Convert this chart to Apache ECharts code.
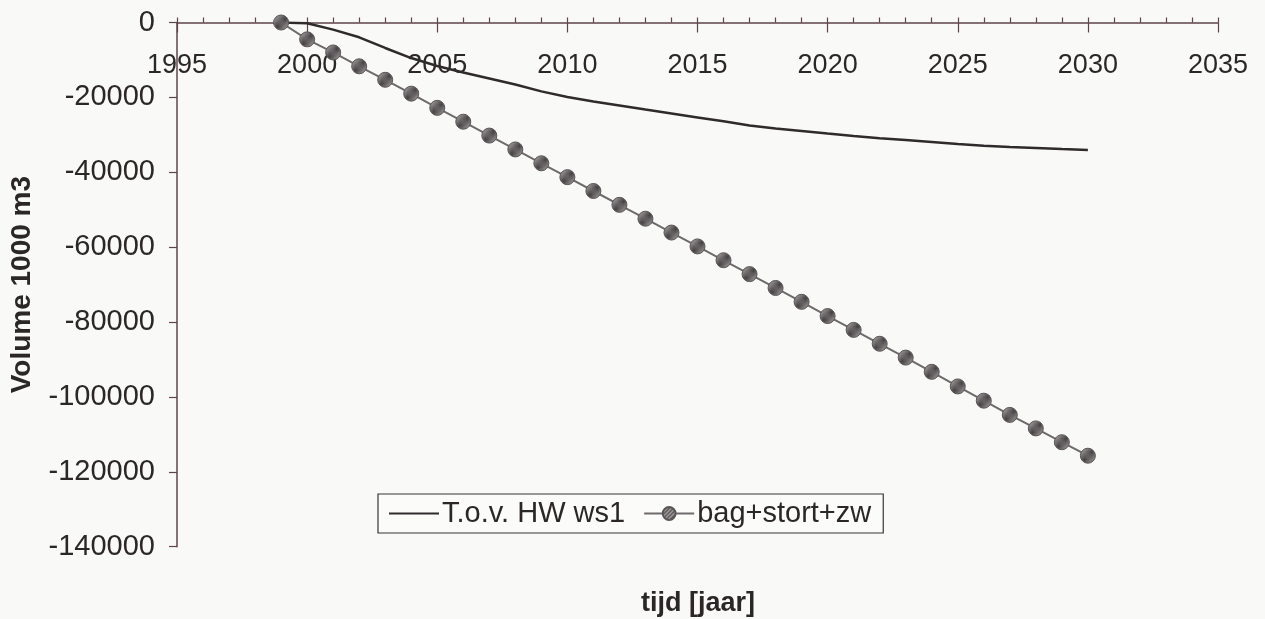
<!DOCTYPE html>
<html>
<head>
<meta charset="utf-8">
<script src="https://cdn.jsdelivr.net/npm/echarts@6/dist/echarts.min.js"></script>
<style>
  html, body { margin: 0; padding: 0; background: #f9f9f7; }
  #chart { width: 1265px; height: 619px; }
</style>
</head>
<body>
<div id="chart"></div>
<script>
// Years of the projection
const years = [1999, 2000, 2001, 2002, 2003, 2004, 2005, 2006, 2007, 2008, 2009,
               2010, 2011, 2012, 2013, 2014, 2015, 2016, 2017, 2018, 2019, 2020,
               2021, 2022, 2023, 2024, 2025, 2026, 2027, 2028, 2029, 2030];

// Volume change relative to HW ws1 (1000 m3)
const hwWs1 = [0, -200, -1900, -3950, -6800, -9500, -11600, -13350, -14950, -16550, -18400,
               -19900, -21100, -22150, -23250, -24300, -25350, -26400, -27500, -28300, -28950, -29650,
               -30300, -30900, -31400, -31900, -32450, -32900, -33250, -33500, -33800, -34050];

// Volume change from dredging + dumping + sand extraction (1000 m3)
const bagStortZw = [0, -4500, -8000, -11700, -15300, -19000, -22800, -26500, -30200, -33900, -37600,
                    -41300, -45000, -48700, -52400, -56100, -59800, -63500, -67200, -70900, -74600, -78400,
                    -82100, -85800, -89500, -93300, -97200, -101000, -104800, -108400, -112100, -115700];

const seriesNames = ['T.o.v. HW ws1', 'bag+stort+zw'];
const xRange = [1995, 2035];   // tick labels every 5 years
const yRange = [-140000, 0];   // tick labels every 20000

const FONT = '"Liberation Sans", Arial, Helvetica, sans-serif';
const TEXT = '#2b2729';
const AXIS = '#5c4448';

// Diagonal hatch used to fill the circle markers
function hatch() {
  const c = document.createElement('canvas');
  c.width = 4; c.height = 4;
  const g = c.getContext('2d');
  g.fillStyle = '#b3afb0';
  g.fillRect(0, 0, 4, 4);
  g.strokeStyle = '#454042';
  g.lineWidth = 1.3;
  g.beginPath();
  g.moveTo(-1, 5); g.lineTo(5, -1);
  g.moveTo(-1, 1); g.lineTo(1, -1);
  g.moveTo(3, 5); g.lineTo(5, 3);
  g.stroke();
  return c;
}
const hatchFill = { image: hatch(), repeat: 'repeat' };

const pair = (arr) => years.map((y, i) => [y, arr[i]]);

const chart = echarts.init(document.getElementById('chart'), null, { renderer: 'canvas' });

chart.setOption({
  backgroundColor: '#f9f9f7',
  animation: false,
  textStyle: { fontFamily: FONT, color: TEXT },
  grid: {
    left: 177, right: 47, top: 22.5, bottom: 72.3,
    containLabel: false, outerBoundsMode: 'none'
  },
  xAxis: [
    {
      type: 'value',
      position: 'top',
      min: xRange[0], max: xRange[1], interval: 5,
      splitLine: { show: false },
      axisLine: { show: true, lineStyle: { color: AXIS, width: 1.5 } },
      axisTick: { show: true, inside: false, length: 5, lineStyle: { color: AXIS, width: 1.2 } },
      minorTick: { show: true, splitNumber: 5, length: 5, lineStyle: { color: AXIS, width: 1.2 } },
      axisLabel: {
        inside: true, margin: 30,
        fontSize: 27, fontFamily: FONT, color: TEXT,
        formatter: (v) => String(v)
      }
    },
    {
      type: 'value',
      position: 'top',
      min: xRange[0], max: xRange[1], interval: 5,
      splitLine: { show: false },
      axisLine: { show: false },
      axisTick: { show: true, inside: true, length: 10, lineStyle: { color: AXIS, width: 1.2 } },
      axisLabel: { show: false }
    }
  ],
  yAxis: {
    type: 'value',
    min: yRange[0], max: yRange[1], interval: 20000,
    splitLine: { show: false },
    axisLine: { show: true, onZero: false, lineStyle: { color: AXIS, width: 1.5 } },
    axisTick: { show: true, length: 8, lineStyle: { color: AXIS, width: 1.2 } },
    axisLabel: {
      margin: 22, fontSize: 29, fontFamily: FONT, color: TEXT,
      formatter: (v) => String(v)
    },
    name: 'Volume 1000 m3',
    nameLocation: 'middle',
    nameGap: 141,
    nameRotate: 90,
    nameTextStyle: { fontSize: 28, fontWeight: 'bold', fontFamily: FONT, color: TEXT }
  },
  graphic: [{
    type: 'text',
    x: 698, y: 604,
    style: {
      text: 'tijd [jaar]', font: 'bold 27px ' + FONT, fill: TEXT,
      align: 'center', verticalAlign: 'middle'
    }
  }],
  legend: {
    left: 378, top: 494,
    orient: 'horizontal',
    backgroundColor: '#fbfbf9',
    borderColor: '#3a3436', borderWidth: 1.2, borderRadius: 0,
    padding: [5, 12, 5, 10],
    itemGap: 18,
    itemWidth: 50, itemHeight: 16,
    textStyle: { fontSize: 29, fontFamily: FONT, color: TEXT, padding: [0, 0, 0, -2] },
    data: [
      { name: seriesNames[0], itemStyle: { opacity: 0 } },
      { name: seriesNames[1] }
    ]
  },
  series: [
    {
      name: seriesNames[0],
      type: 'line',
      data: pair(hwWs1),
      showSymbol: false,
      symbol: 'none',
      lineStyle: { color: '#2f2a2c', width: 2.5 },
      itemStyle: { color: '#2f2a2c' },
      z: 3
    },
    {
      name: seriesNames[1],
      type: 'line',
      data: pair(bagStortZw),
      symbol: 'circle',
      symbolSize: 15,
      lineStyle: { color: '#6e6a6c', width: 2 },
      itemStyle: { color: hatchFill, borderColor: '#5a5557', borderWidth: 1 },
      z: 4
    }
  ]
});
</script>
</body>
</html>
